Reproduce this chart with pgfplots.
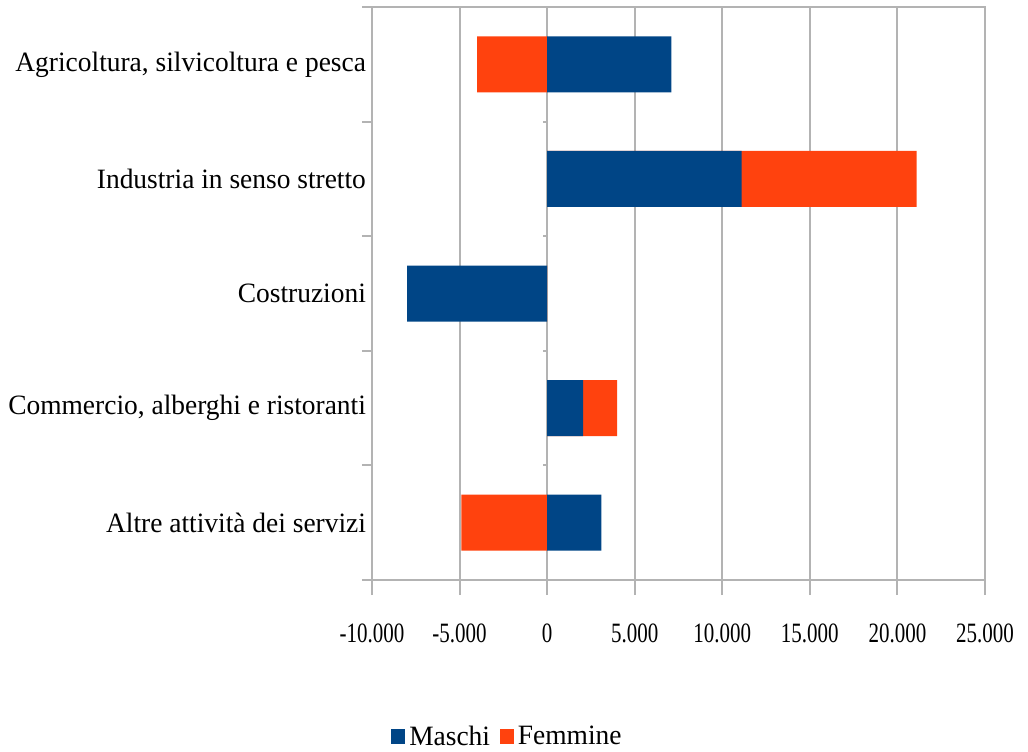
\documentclass[border=0pt]{standalone}
\usepackage{pgfplots}
\pgfplotsset{compat=1.18}
\usepackage{fontspec}
\setmainfont{Liberation Serif}[FakeStretch=0.98]
\newfontfamily\condfont{Liberation Serif}[FakeStretch=0.75]
\definecolor{mblue}{HTML}{004586}
\definecolor{morange}{HTML}{FF420E}
\definecolor{lgray}{HTML}{B3B3B3}

\begin{document}
\begin{tikzpicture}
  \begin{axis}[
      scale only axis,
      width=306.5pt, height=286.5pt,
      xbar, bar width=28pt, bar shift=0pt,
      xmin=-10000, xmax=25000,
      ymin=-0.5, ymax=4.5, y dir=reverse,
      xtick={-10000,-5000,...,25000},
      scaled x ticks=false,
      ytick={0,1,2,3,4},
      yticklabels={Agricoltura{,} silvicoltura e pesca,
                   Industria in senso stretto,
                   Costruzioni,
                   Commercio{,} alberghi e ristoranti,
                   Altre attività dei servizi},
      ytick style={draw=none},
      extra y ticks={-0.5,0.5,1.5,2.5,3.5,4.5},
      extra y tick labels={},
      extra y tick style={major tick length=5pt, ytick style={draw=lgray, line width=1pt}},
      tick pos=left,
      tick align=outside,
      major tick length=7.5pt,
      xtick style={draw=lgray, line width=1pt},
      xmajorgrids, grid style={lgray, line width=1pt},
      axis line style={lgray, line width=1pt},
      /pgf/number format/assume math mode=true,
      /pgf/number format/fixed,
      /pgf/number format/1000 sep={.},
      yticklabel style={font=\fontsize{14}{16}\selectfont, xshift=8pt},
      xticklabel style={font=\condfont\fontsize{14}{16}\selectfont, yshift=-11pt},
      legend style={at={(0.2227,-0.274)}, anchor=center, draw=none,
                    font=\fontsize{14}{16}\selectfont,
                    /tikz/every even column/.append style={column sep=3pt}},
      legend columns=-1,
    ]
    % Femmine drawn first; positive bars end at Maschi+Femmine
    \addplot[fill=morange, draw=none, forget plot] coordinates {
      (-4000,0) (21100,1) (0,2) (4000,3) (-4900,4)
    };
    % Maschi
    \addplot[fill=mblue, draw=none, forget plot] coordinates {
      (7100,0) (11100,1) (-8000,2) (2050,3) (3100,4)
    };
    \pgfplotsinvokeforeach{0.5,1.5,2.5,3.5}{
      \draw[lgray, line width=1pt] (axis cs:0,#1) -- (axis cs:-250,#1);
    }
    \draw[lgray, line width=1.5pt] (axis cs:-11000,4.5) -- (axis cs:25000,4.5);
    \addlegendimage{legend image code/.code={\fill[mblue] (0pt,-3pt) rectangle (6.5pt,4pt);}}
    \addlegendentry{Maschi}
    \addlegendimage{legend image code/.code={\fill[morange] (0pt,-3pt) rectangle (6.5pt,4pt);}}
    \addlegendentry{Femmine}
  \end{axis}
  \pgfresetboundingbox
  \path ([shift={(-186pt,-85.5pt)}]current axis.south west)
        rectangle ([shift={(21.5pt,3.5pt)}]current axis.north east);
\end{tikzpicture}
\end{document}
